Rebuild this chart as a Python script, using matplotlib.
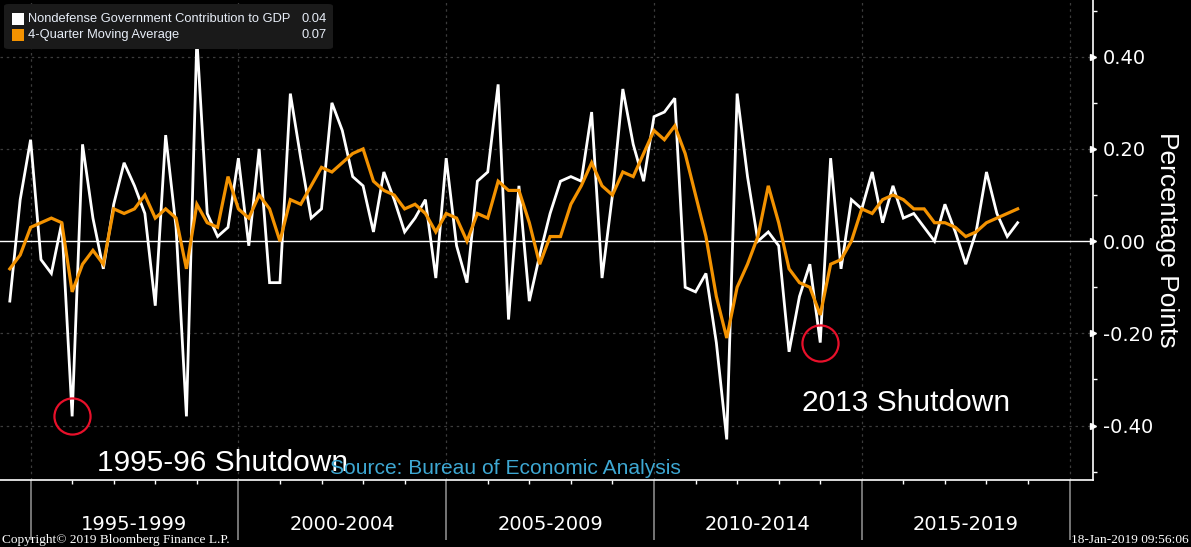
import numpy as np
import pandas as pd
import matplotlib
matplotlib.use('Agg')
import matplotlib.pyplot as plt
from matplotlib.patches import FancyBboxPatch, Rectangle

W, H = 1191, 547

# quarterly data, 1994Q2 .. 2018Q3 (plotted at quarter end)
quarters = pd.period_range('1994Q2', '2018Q3', freq='Q')

nondefense = [-0.13, 0.09, 0.22, -0.04, -0.07, 0.04, -0.38, 0.21, 0.05, -0.06,
              0.08, 0.17, 0.12, 0.06, -0.14, 0.23, 0.03, -0.38, 0.44, 0.06,
              0.01, 0.03, 0.18, -0.01, 0.20, -0.09, -0.09, 0.32, 0.18, 0.05,
              0.07, 0.30, 0.24, 0.14, 0.12, 0.02, 0.15, 0.09, 0.02, 0.05,
              0.09, -0.08, 0.18, -0.01, -0.09, 0.13, 0.15, 0.34, -0.17, 0.12,
              -0.13, -0.03, 0.06, 0.13, 0.14, 0.13, 0.28, -0.08, 0.10, 0.33,
              0.21, 0.13, 0.27, 0.28, 0.31, -0.10, -0.11, -0.07, -0.22, -0.43,
              0.32, 0.14, 0.00, 0.02, -0.01, -0.24, -0.12, -0.05, -0.22, 0.18,
              -0.06, 0.09, 0.07, 0.15, 0.04, 0.12, 0.05, 0.06, 0.03, 0.00,
              0.08, 0.02, -0.05, 0.02, 0.15, 0.06, 0.01, 0.04]

moving_avg = [-0.06, -0.03, 0.03, 0.04, 0.05, 0.04, -0.11, -0.05, -0.02, -0.05,
              0.07, 0.06, 0.07, 0.10, 0.05, 0.07, 0.05, -0.06, 0.08, 0.04,
              0.03, 0.14, 0.07, 0.05, 0.10, 0.07, 0.00, 0.09, 0.08, 0.12,
              0.16, 0.15, 0.17, 0.19, 0.20, 0.13, 0.11, 0.10, 0.07, 0.08,
              0.06, 0.02, 0.06, 0.05, 0.00, 0.06, 0.05, 0.13, 0.11, 0.11,
              0.04, -0.05, 0.01, 0.01, 0.08, 0.12, 0.17, 0.12, 0.10, 0.15,
              0.14, 0.19, 0.24, 0.22, 0.25, 0.19, 0.10, 0.01, -0.12, -0.21,
              -0.10, -0.05, 0.01, 0.12, 0.04, -0.06, -0.09, -0.10, -0.16, -0.05,
              -0.04, 0.00, 0.07, 0.06, 0.09, 0.10, 0.09, 0.07, 0.07, 0.04,
              0.04, 0.03, 0.01, 0.02, 0.04, 0.05, 0.06, 0.07]

period_labels = ['1995-1999', '2000-2004', '2005-2009', '2010-2014', '2015-2019']
period_starts = [1995, 2000, 2005, 2010, 2015, 2020]
y_ticks = [-0.4, -0.2, 0.0, 0.2, 0.4]
y_minor = [-0.5, -0.3, -0.1, 0.1, 0.3, 0.5]
shutdowns = [(6, '1995-96 Shutdown'), (78, '2013 Shutdown')]

x = np.array([q.year + q.quarter * 0.25 for q in quarters])

WHITE = '#ffffff'
ORANGE = '#f39200'
GRID = '#3c3c3c'

fig = plt.figure(figsize=(W / 100, H / 100), dpi=100, facecolor='black')
ax = fig.add_axes([0, 67 / H, 1093 / W, 480 / H])
ax.set_facecolor('black')

def fx(px):
    return px / W

def fy(py):
    return 1 - py / H

# grid
for v in y_ticks:
    if v != 0:
        ax.axhline(v, color=GRID, lw=0.9, ls=(0, (2, 3)), zorder=0)
for v in period_starts:
    ax.axvline(v, color=GRID, lw=0.9, ls=(0, (2, 3)), zorder=0)
ax.axhline(0, color=WHITE, lw=1.0, zorder=1)

ax.plot(x, nondefense, color=WHITE, lw=2.0, zorder=3, solid_joinstyle='miter')
ax.plot(x, moving_avg, color=ORANGE, lw=2.3, zorder=4, solid_joinstyle='miter')

# shutdown circles
for idx, _ in shutdowns:
    ax.plot(x[idx], nondefense[idx], 'o', ms=26, mfc='none', mec='#e8102a',
            mew=1.6, zorder=5)

ax.set_xlim(1994.264, 2020.563)
ax.set_ylim(-0.518, 0.523)

# spines
for s in ['top', 'left']:
    ax.spines[s].set_visible(False)
ax.spines['right'].set_color(WHITE)
ax.spines['bottom'].set_color(WHITE)
ax.spines['right'].set_linewidth(1.2)
ax.spines['bottom'].set_linewidth(1.2)

# y axis on the right
ax.yaxis.tick_right()
ax.set_yticks(y_ticks)
ax.set_yticklabels(['%.2f' % v for v in y_ticks])
ax.set_yticks(y_minor, minor=True)
ax.tick_params(axis='y', which='major', length=0, pad=7, labelcolor=WHITE,
               labelsize=14)
ax.tick_params(axis='y', which='minor', length=3, width=1, color=WHITE)
ax.plot(np.ones(len(y_ticks)), y_ticks, '>', color=WHITE, ms=5,
        transform=ax.get_yaxis_transform(), clip_on=False)
for lab in ax.get_yticklabels():
    lab.set_family('DejaVu Sans')

ax.yaxis.set_label_position('right')
ax.set_ylabel('Percentage Points', rotation=270, color=WHITE, fontsize=19,
              family='Liberation Sans', labelpad=19)

# x axis: dividers and yearly ticks
ax.set_xticks(period_starts)
ax.set_xticklabels([])
ax.set_xticks(range(1995, 2021), minor=True)
ax.tick_params(axis='x', which='major', length=43, width=1.2, color='#8a8a8a')
ax.tick_params(axis='x', which='minor', length=3, width=1, color=WHITE)
for i, lab in enumerate(period_labels):
    xc = (period_starts[i] + period_starts[i + 1]) / 2
    ax.text(xc, -44 / 480, lab, transform=ax.get_xaxis_transform(),
            ha='center', va='center', color=WHITE, fontsize=14,
            family='DejaVu Sans')

# annotations
fig.text(fx(97), fy(463), shutdowns[0][1], color=WHITE, fontsize=21.5,
         family='Liberation Sans', ha='left', va='center')
fig.text(fx(802), fy(403), shutdowns[1][1], color=WHITE, fontsize=21.5,
         family='Liberation Sans', ha='left', va='center')
fig.text(fx(330), fy(469), 'Source: Bureau of Economic Analysis', color='#3ea8d3',
         fontsize=15.1, family='Liberation Sans', ha='left', va='center')

# legend box
box = FancyBboxPatch((fx(4), fy(49)), fx(329), 45 / H,
                     boxstyle='round,pad=0,rounding_size=0.004',
                     transform=fig.transFigure, facecolor='#1a1a1a',
                     edgecolor='none', zorder=10)
fig.patches.append(box)
legend_rows = [(WHITE, 'Nondefense Government Contribution to GDP', nondefense[-1], 19),
               (ORANGE, '4-Quarter Moving Average', moving_avg[-1], 35)]
for color, label, last, yc in legend_rows:
    fig.patches.append(Rectangle((fx(12), fy(yc + 6)), fx(12), 12 / H,
                                 transform=fig.transFigure, facecolor=color,
                                 edgecolor='none', zorder=11))
    fig.text(fx(28), fy(yc), label, color='#e8eef8', fontsize=9.3,
             family='Liberation Sans', ha='left', va='center', zorder=12)
    fig.text(fx(327), fy(yc), '%.2f' % last, color='#e8eef8', fontsize=9.3,
             family='Liberation Sans', ha='right', va='center', zorder=12)

# footer
fig.text(fx(2), fy(540), 'Copyright\u00a9 2019 Bloomberg Finance L.P.', color=WHITE,
         fontsize=9.6, family='Liberation Serif', ha='left', va='center')
fig.text(fx(1189), fy(540), '18-Jan-2019 09:56:06', color=WHITE,
         fontsize=9.6, family='Liberation Serif', ha='right', va='center')

fig.savefig('out.png', dpi=100, facecolor='black')
